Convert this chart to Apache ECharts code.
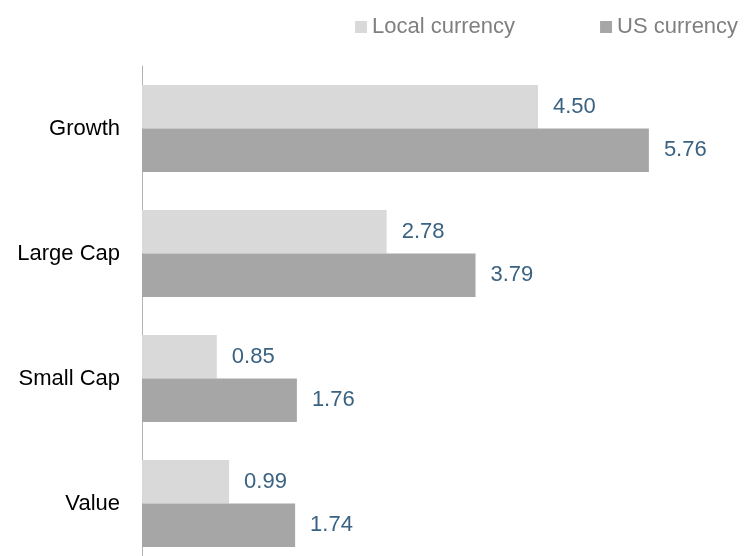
<!DOCTYPE html>
<html>
<head>
<meta charset="utf-8">
<script src="https://cdn.jsdelivr.net/npm/echarts@6/dist/echarts.min.js"></script>
<style>
html,body{margin:0;padding:0;background:#fff;}
#chart{width:749px;height:556px;}
</style>
</head>
<body>
<div id="chart"></div>
<script>
const categories = ["Growth", "Large Cap", "Small Cap", "Value"];
const localCurrency = [4.50, 2.78, 0.85, 0.99];
const usCurrency = [5.76, 3.79, 1.76, 1.74];
const seriesNames = ["Local currency", "US currency"];

const font = "'Liberation Sans', Arial, sans-serif";
const chart = echarts.init(document.getElementById('chart'));
const labelCfg = {
  show: true,
  position: 'right',
  distance: 15,
  fontFamily: font,
  fontSize: 22,
  color: '#3a6282',
  formatter: p => p.value.toFixed(2)
};
chart.setOption({
  animation: false,
  legend: {
    left: 350,
    top: 11,
    itemWidth: 12,
    itemHeight: 12,
    itemGap: 85,
    icon: 'rect',
    textStyle: { fontFamily: font, fontSize: 22, color: '#7f7f7f', lineHeight: 22 },
    data: seriesNames
  },
  grid: { left: 142, top: 66, width: 528, height: 500, containLabel: false, outerBoundsMode: 'none' },
  xAxis: {
    type: 'value',
    min: 0,
    max: 6,
    show: false,
    splitLine: { show: false }
  },
  yAxis: {
    type: 'category',
    data: categories,
    inverse: true,
    axisLine: { show: true, lineStyle: { color: '#b3b3b3', width: 1 } },
    axisTick: { show: false },
    axisLabel: { margin: 22, fontFamily: font, fontSize: 22, color: '#000' }
  },
  series: [
    {
      name: seriesNames[0],
      type: 'bar',
      data: localCurrency,
      barGap: '0%',
      barCategoryGap: '30.4%',
      itemStyle: { color: '#d9d9d9' },
      label: labelCfg
    },
    {
      name: seriesNames[1],
      type: 'bar',
      data: usCurrency,
      barGap: '0%',
      barCategoryGap: '30.4%',
      itemStyle: { color: '#a6a6a6' },
      label: labelCfg
    }
  ]
});
</script>
</body>
</html>
